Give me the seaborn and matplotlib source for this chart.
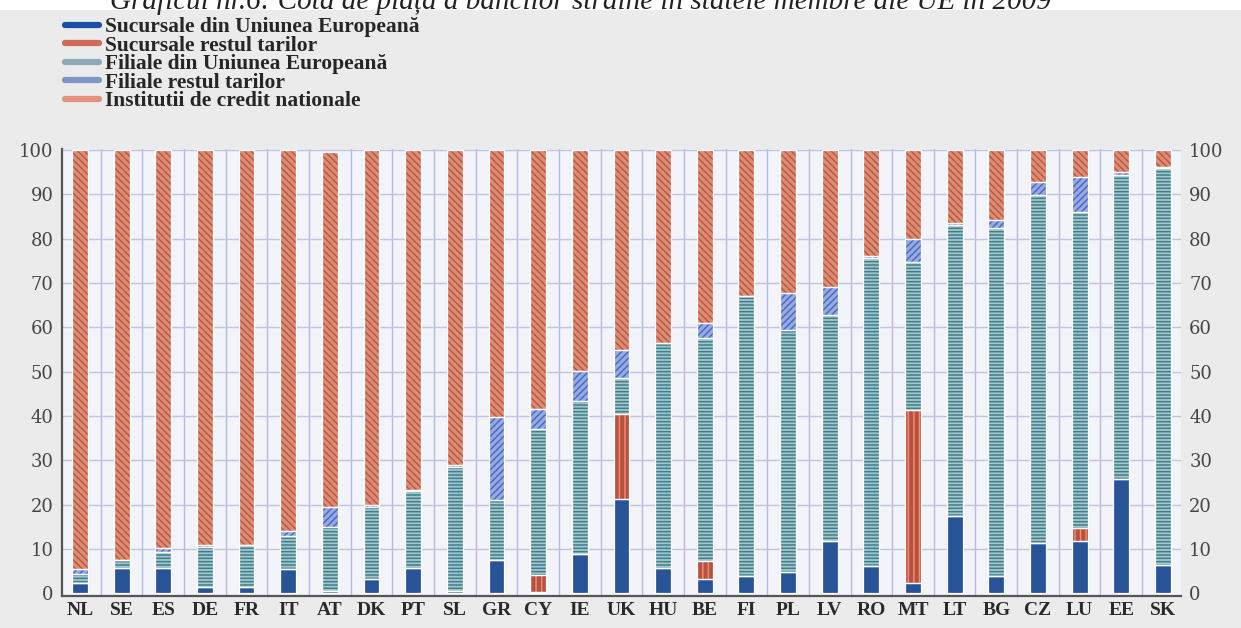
import numpy as np
import pandas as pd
import seaborn as sns
import matplotlib.pyplot as plt
from matplotlib.lines import Line2D
from matplotlib.patches import Rectangle

# =====================================================
# Datos (%)
# =====================================================
countries = ['NL', 'SE', 'ES', 'DE', 'FR', 'IT', 'AT', 'DK', 'PT', 'SL', 'GR', 'CY', 'IE', 'UK',
             'HU', 'BE', 'FI', 'PL', 'LV', 'RO', 'MT', 'LT', 'BG', 'CZ', 'LU', 'EE', 'SK']

suc_ue = [2.3, 5.6, 5.6, 1.5, 1.5, 5.5, 0.5, 3.2, 5.6, 0.5, 7.5, 0.3, 8.8, 21.2,
          5.6, 3.3, 4.0, 4.7, 11.8, 6.2, 2.4, 17.4, 3.9, 11.4, 11.8, 25.7, 6.5]
suc_rest = [0, 0, 0, 0, 0, 0, 0, 0, 0, 0, 0, 3.9, 0, 19.2,
            0, 4.0, 0, 0, 0, 0, 39.0, 0, 0, 0, 3.0, 0, 0]
fil_ue = [2.0, 2.0, 3.8, 9.0, 9.3, 7.5, 14.5, 16.3, 17.4, 28.0, 13.5, 32.8, 34.6, 8.2,
          50.8, 50.4, 63.0, 54.8, 51.0, 69.4, 33.4, 65.7, 78.5, 78.5, 71.3, 68.7, 89.4]
fil_rest = [1.2, 0, 0.8, 0.5, 0, 1.0, 4.5, 0.5, 0.3, 0.5, 18.8, 4.5, 6.7, 6.4,
            0, 3.3, 0, 8.3, 6.4, 0.6, 5.2, 0.5, 1.8, 3.0, 7.9, 0.6, 0.4]
nationale = [94.5, 92.4, 89.8, 89.0, 89.2, 86.0, 80.0, 80.0, 76.7, 71.0, 60.2, 58.5, 49.9, 45.0,
             43.6, 39.0, 33.0, 32.2, 30.8, 23.8, 20.0, 16.4, 15.8, 7.1, 6.0, 5.0, 3.7]

labels = ['Sucursale din Uniunea Europeană', 'Sucursale restul tarilor',
          'Filiale din Uniunea Europeană', 'Filiale restul tarilor',
          'Institutii de credit nationale']

title = 'Graficul nr.6: Cota de piață a băncilor străine în statele membre ale UE în 2009'

# =====================================================
# Stiluri (culoare, culoare hasura, hasura)
# =====================================================
styles = [
    ('#1550aa', '#1550aa', None),
    ('#c9452c', '#f08a70', '|||'),
    ('#9ccad2', '#3f7f8c', '-----'),
    ('#8ea6e8', '#4a6bcc', '/////'),
    ('#e8866a', '#c4553a', '\\\\\\\\\\'),
]
legend_colors = ['#1a4fa6', '#d0695a', '#8eaab5', '#7f95c4', '#e2927e']

series = [suc_ue, suc_rest, fil_ue, fil_rest, nationale]

sns.set_style("white")
plt.rcParams['hatch.linewidth'] = 1.1

fig = plt.figure(figsize=(12.41, 6.28), dpi=100, facecolor='#ebebeb')
fig.patches.append(Rectangle((0, 1 - 10 / 628), 1, 10 / 628, transform=fig.transFigure,
                             facecolor='white', edgecolor='none', zorder=0))
# titlul e taiat sus, ca in original
fig.text(110 / 1241, 1 - 9 / 628, title, ha='left', va='baseline', fontsize=21,
         style='italic', family='Liberation Serif', color='#222222')

ax = fig.add_axes([0.05, 0.051, 0.9015, 0.712])
ax.set_facecolor('#f2f4fa')

df = pd.DataFrame({'tara': countries})
bottom = np.zeros(len(countries))
for vals, (fc, hc, hatch) in zip(series, styles):
    df['val'] = vals
    sns.barplot(data=df, x='tara', y='val', bottom=bottom, color=fc, edgecolor=hc,
                hatch=hatch, linewidth=0, width=0.38, ax=ax, zorder=3)
    # linie alba de separare intre segmente
    sns.barplot(data=df, x='tara', y='val', bottom=bottom, color='white', fill=False,
                linewidth=0.9, width=0.38, ax=ax, zorder=4)
    bottom = bottom + np.array(vals)

# Grila
for k in range(len(countries) - 1):
    ax.axvline(k + 0.5, color='#b3bbdf', lw=1, zorder=1)
for yv in range(10, 101, 10):
    ax.axhline(yv, color='#bcc6de', lw=1, zorder=1)

ax.set_xlim(-0.43, len(countries) - 0.57)
ax.set_ylim(-0.6, 100.3)
ax.set_yticks(range(0, 101, 10))
ax.set_xlabel('')
ax.set_ylabel('')

ax.tick_params(axis='y', length=0, labelright=True, pad=6, labelsize=13,
               labelcolor='#454545')
ax.tick_params(axis='x', length=0, pad=4, labelsize=14, labelcolor='#2a2a2a')
for t in ax.get_yticklabels():
    t.set_family('DejaVu Serif')
for t in ax.get_xticklabels():
    t.set_family('Liberation Serif')
    t.set_fontweight('bold')
ax.set_xticks(np.arange(0.5, len(countries) - 1, 1), minor=True)
ax.tick_params(axis='x', which='minor', length=4, color='#666666', direction='out')

for side in ['top', 'right']:
    ax.spines[side].set_visible(False)
for side in ['left', 'bottom']:
    ax.spines[side].set_color('#555555')
    ax.spines[side].set_linewidth(1.6)

# Legenda
handles = [Line2D([0], [0], color=c, lw=4.5) for c in legend_colors]
leg = fig.legend(handles, labels, loc='upper left', bbox_to_anchor=(65 / 1241, 1 - 17 / 628),
                 frameon=False, borderaxespad=0, borderpad=0,
                 handlelength=1.6, handletextpad=0.25, labelspacing=-0.07,
                 prop={'family': 'Liberation Serif', 'weight': 'bold', 'size': 15.5})

fig.savefig('out.png', dpi=100, facecolor=fig.get_facecolor())
